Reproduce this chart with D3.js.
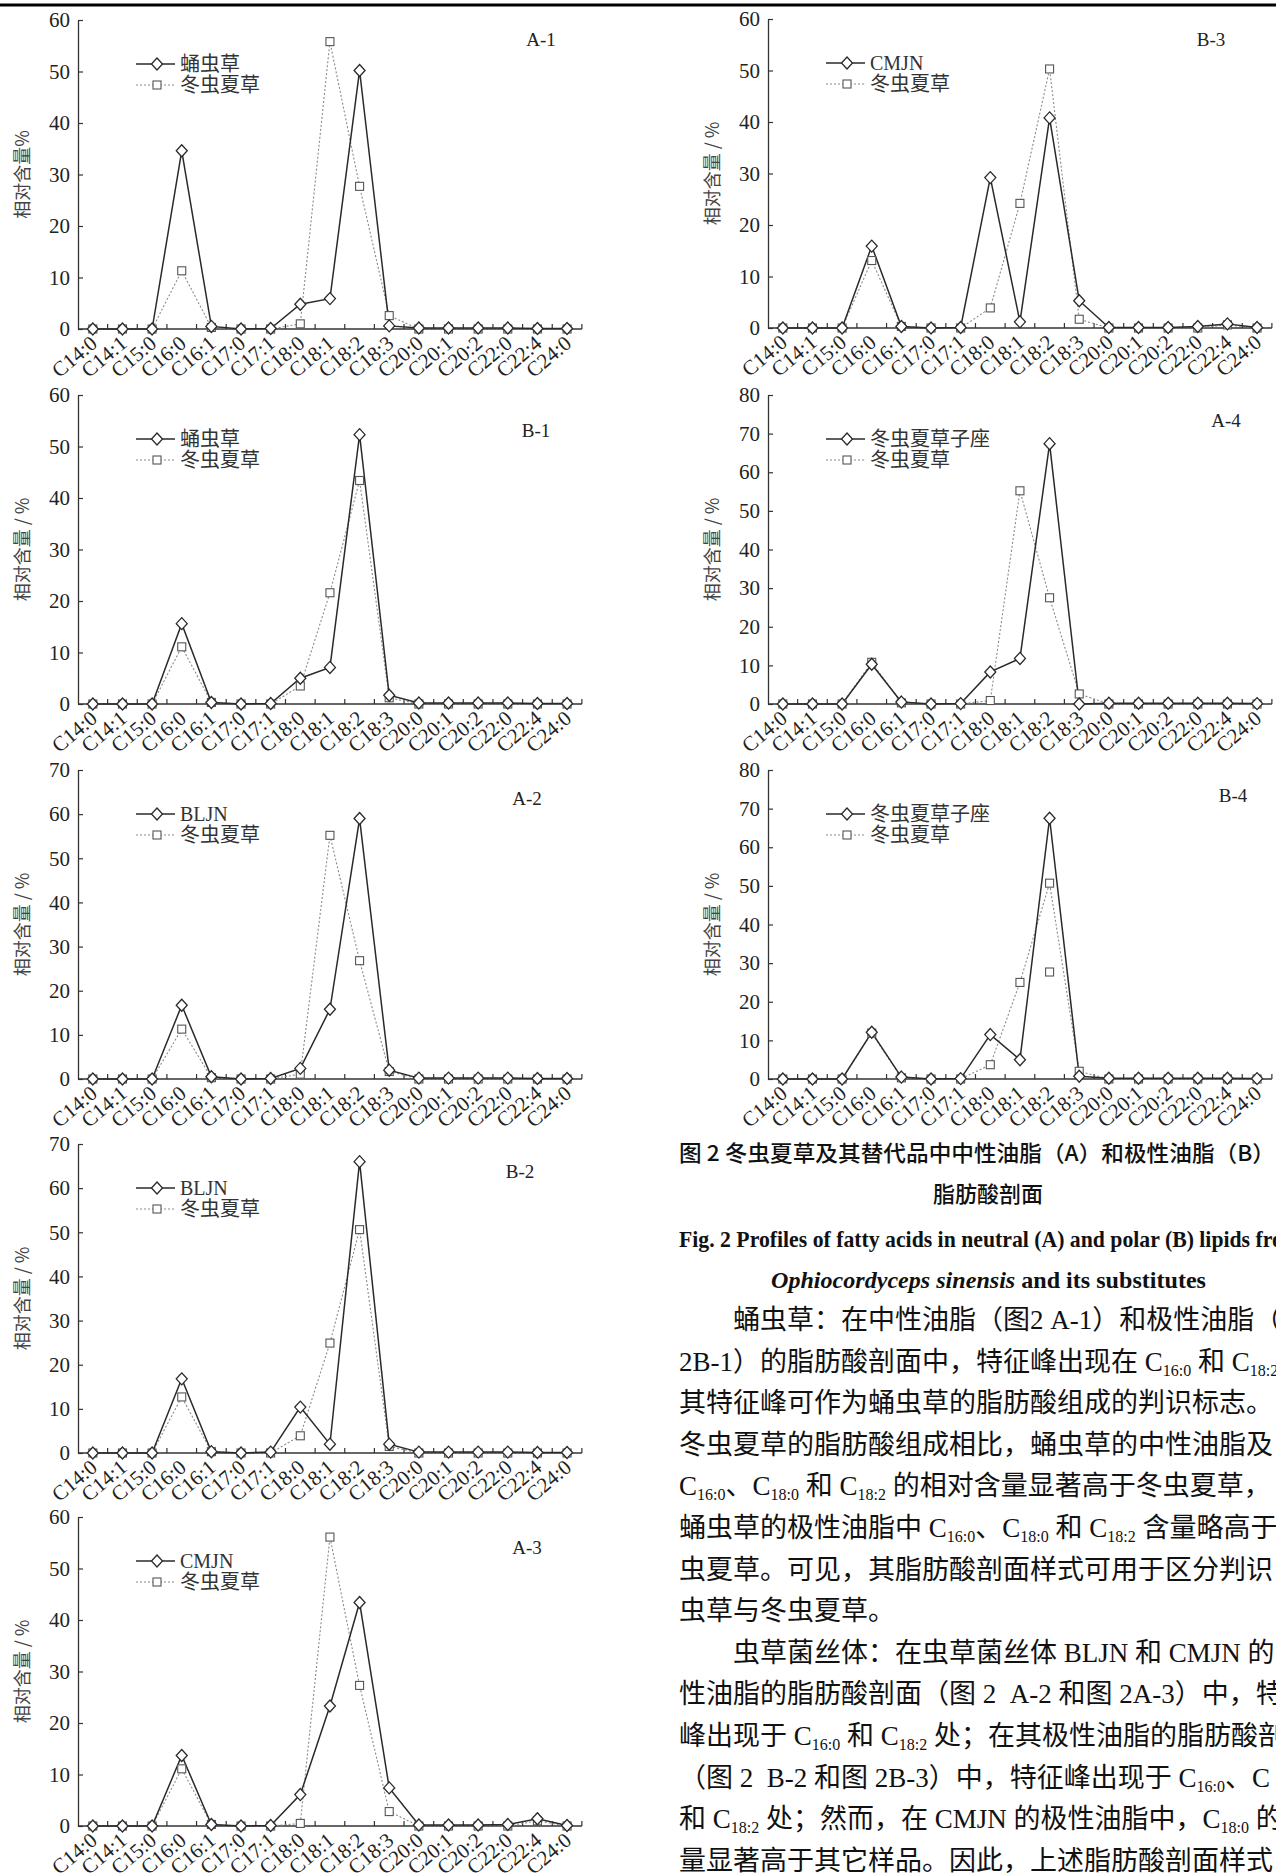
<!DOCTYPE html>
<html>
<head>
<meta charset="utf-8">
<script src="https://cdn.jsdelivr.net/npm/d3@7"></script>
<style>
  body { margin: 0; background: #fff; }
</style>
</head>
<body>
<script>
// fatty acids on the x axis
const categories = ["C14:0", "C14:1", "C15:0", "C16:0", "C16:1", "C17:0", "C17:1", "C18:0", "C18:1",
  "C18:2", "C18:3", "C20:0", "C20:1", "C20:2", "C22:0", "C22:4", "C24:0"];

// A = neutral lipids, B = polar lipids (relative content, %)
const a1Pupa = [0, 0, 0, 34.6, 0.5, 0, 0.1, 4.8, 5.9, 50.2, 0.6, 0.2, 0.2, 0.2, 0.2, 0.1, 0.1];
const a1Os   = [0, 0, 0, 11.3, 0.3, 0, 0, 1.0, 55.8, 27.7, 2.6, 0, 0, 0, 0, 0, 0];
const b1Pupa = [0, 0, 0, 15.6, 0.3, 0, 0.1, 5.0, 7.1, 52.3, 1.7, 0.2, 0.2, 0.2, 0.2, 0.1, 0.1];
const b1Os   = [0, 0, 0, 11.1, 0.3, 0, 0, 3.5, 21.6, 43.4, 1.2, 0, 0, 0, 0, 0, 0];
const a2Bljn = [0, 0, 0, 16.7, 0.5, 0, 0.1, 2.4, 15.8, 59.0, 2.0, 0.2, 0.2, 0.2, 0.2, 0.1, 0.1];
const a2Os   = [0, 0, 0, 11.3, 0.3, 0, 0, 1.1, 55.2, 26.8, 1.7, 0, 0, 0, 0, 0, 0];
const b2Bljn = [0, 0, 0, 16.8, 0.3, 0, 0.2, 10.4, 2.0, 66.0, 2.0, 0.2, 0.2, 0.2, 0.2, 0.1, 0.1];
const b2Os   = [0, 0, 0, 12.7, 0.3, 0, 0, 3.9, 24.9, 50.6, 1.5, 0, 0, 0, 0, 0, 0];
const a3Cmjn = [0, 0, 0, 13.7, 0.3, 0, 0.1, 6.1, 23.3, 43.4, 7.4, 0.2, 0.2, 0.2, 0.3, 1.4, 0.1];
const a3Os   = [0, 0, 0, 11.1, 0.3, 0, 0, 0.5, 56.1, 27.3, 2.8, 0, 0, 0, 0, 1.0, 0];
const b3Cmjn = [0, 0, 0, 15.9, 0.3, 0, 0.1, 29.2, 1.2, 40.8, 5.3, 0.1, 0.1, 0.1, 0.3, 0.8, 0.1];
const b3Os   = [0, 0, 0, 13.1, 0.3, 0, 0, 3.9, 24.2, 50.3, 1.7, 0, 0, 0, 0, 0.6, 0];
const a4Stroma = [0, 0, 0, 10.3, 0.5, 0, 0.1, 8.3, 11.8, 67.4, 0, 0.2, 0.2, 0.2, 0.2, 0.2, 0.1];
const a4Os     = [0, 0, 0, 10.8, 0.3, 0, 0, 0.9, 55.2, 27.5, 2.6, 0, 0, 0, 0, 0, 0];
const b4Stroma = [0, 0, 0, 12.1, 0.5, 0, 0.1, 11.5, 5.0, 67.5, 0.7, 0.2, 0.2, 0.2, 0.2, 0.2, 0.1];
const b4Os     = [0, 0, 0, 11.9, 0.3, 0, 0, 3.7, 25.0, 50.7, 2.0, 0, 0, 0, 0, 0, 0];
// lone square left in B-4 at C18:2
const b4Extra = [{ cat: "C18:2", value: 27.7 }];

const serif = '"Liberation Serif","Times New Roman",serif';
const cjk = '"Noto Sans CJK SC",sans-serif';
const mixed = '"Liberation Serif","Noto Sans CJK SC",serif';

const svg = d3.select("body").append("svg")
  .attr("width", 1276)
  .attr("height", 1874)
  .style("background", "#fff");

// rule at the very top of the page
svg.append("line")
  .attr("x1", 0).attr("x2", 1276)
  .attr("y1", 5).attr("y2", 5)
  .attr("stroke", "#000").attr("stroke-width", 3);

const colX = [78, 768];
const plotH = 309;
const bandW = 29.64;

const panels = [
  { label: "A-1", col: 0, top: 20, ymax: 60, names: ["蛹虫草", "冬虫夏草"], solid: a1Pupa, dotted: a1Os, yTitle: "相对含量%", tag: [463, 19] },
  { label: "B-1", col: 0, top: 395, ymax: 60, names: ["蛹虫草", "冬虫夏草"], solid: b1Pupa, dotted: b1Os, tag: [458, 35] },
  { label: "A-2", col: 0, top: 770, ymax: 70, names: ["BLJN", "冬虫夏草"], solid: a2Bljn, dotted: a2Os, tag: [449, 28] },
  { label: "B-2", col: 0, top: 1144, ymax: 70, names: ["BLJN", "冬虫夏草"], solid: b2Bljn, dotted: b2Os, tag: [442, 27] },
  { label: "A-3", col: 0, top: 1517, ymax: 60, names: ["CMJN", "冬虫夏草"], solid: a3Cmjn, dotted: a3Os, tag: [449, 30] },
  { label: "B-3", col: 1, top: 19, ymax: 60, names: ["CMJN", "冬虫夏草"], solid: b3Cmjn, dotted: b3Os, tag: [443, 20] },
  { label: "A-4", col: 1, top: 395, ymax: 80, names: ["冬虫夏草子座", "冬虫夏草"], solid: a4Stroma, dotted: a4Os, tag: [458, 25] },
  { label: "B-4", col: 1, top: 770, ymax: 80, names: ["冬虫夏草子座", "冬虫夏草"], solid: b4Stroma, dotted: b4Os, extra: b4Extra, tag: [465, 25] }
];

const diamond = "M0,-6L5.5,0L0,6L-5.5,0Z";

panels.forEach(p => {
  const x0 = colX[p.col];
  const x = d3.scaleBand().domain(categories).range([x0, x0 + bandW * categories.length]);
  const y = d3.scaleLinear().domain([0, p.ymax]).range([p.top + plotH, p.top]);
  const cx = c => x(c) + x.bandwidth() / 2;
  const g = svg.append("g");

  // y axis, ticks pointing inward
  const ya = g.append("g")
    .attr("transform", `translate(${x0},0)`)
    .call(d3.axisLeft(y).tickValues(d3.range(0, p.ymax + 1, 10)).tickSizeInner(-5).tickSizeOuter(0).tickPadding(8));
  ya.select(".domain").attr("stroke", "#333").attr("stroke-width", 1.3);
  ya.selectAll(".tick line").attr("stroke", "#333").attr("stroke-width", 1.2);
  ya.selectAll(".tick text").attr("font-family", serif).attr("font-size", 21).attr("fill", "#222");

  // x axis with small upward ticks on the band edges
  const y0 = y(0);
  const xr = x.range();
  g.append("line")
    .attr("x1", xr[0]).attr("x2", xr[1])
    .attr("y1", y0).attr("y2", y0)
    .attr("stroke", "#333").attr("stroke-width", 1.3);
  const edges = categories.map(c => x(c)).concat([xr[1]]);
  g.selectAll(".xtick").data(edges.slice(1)).join("line")
    .attr("x1", d => d).attr("x2", d => d)
    .attr("y1", y0).attr("y2", y0 - 5)
    .attr("stroke", "#333").attr("stroke-width", 1.2);
  g.selectAll(".xlab").data(categories).join("text")
    .attr("transform", d => `translate(${cx(d) - 4},${y0 + 5}) rotate(-40)`)
    .attr("dy", "0.72em")
    .attr("text-anchor", "end")
    .attr("font-family", serif)
    .attr("font-size", 21)
    .attr("fill", "#222")
    .text(d => d);

  // y title
  g.append("text")
    .attr("transform", `translate(${x0 - 55},${p.top + plotH / 2}) rotate(-90)`)
    .attr("text-anchor", "middle")
    .attr("dy", "0.35em")
    .attr("font-family", cjk)
    .attr("font-size", 18)
    .attr("fill", "#444")
    .text(p.yTitle || "相对含量 / %");

  // panel tag
  g.append("text")
    .attr("x", x0 + p.tag[0]).attr("y", p.top + p.tag[1])
    .attr("dy", "0.35em")
    .attr("text-anchor", "middle")
    .attr("font-family", serif)
    .attr("font-size", 19)
    .attr("fill", "#222")
    .text(p.label);

  const line = d3.line().x((d, i) => cx(categories[i])).y(d => y(d));

  g.append("path").datum(p.dotted)
    .attr("d", line)
    .attr("fill", "none")
    .attr("stroke", "#8a8a8a")
    .attr("stroke-width", 1.1)
    .attr("stroke-dasharray", "2,2");
  g.append("path").datum(p.solid)
    .attr("d", line)
    .attr("fill", "none")
    .attr("stroke", "#2a2a2a")
    .attr("stroke-width", 1.5);

  const sq = p.dotted.map((v, i) => ({ cat: categories[i], value: v })).concat(p.extra || []);
  g.selectAll(".sq").data(sq).join("rect")
    .attr("x", d => cx(d.cat) - 4)
    .attr("y", d => y(d.value) - 4)
    .attr("width", 8).attr("height", 8)
    .attr("fill", "#fff")
    .attr("stroke", "#555")
    .attr("stroke-width", 1.1);
  g.selectAll(".dm").data(p.solid).join("path")
    .attr("d", diamond)
    .attr("transform", (d, i) => `translate(${cx(categories[i])},${y(d)})`)
    .attr("fill", "#fff")
    .attr("stroke", "#2a2a2a")
    .attr("stroke-width", 1.3);

  // legend
  const rows = [p.top + 44, p.top + 65];
  const lg = g.append("g");
  lg.append("line")
    .attr("x1", x0 + 58).attr("x2", x0 + 97)
    .attr("y1", rows[0]).attr("y2", rows[0])
    .attr("stroke", "#2a2a2a").attr("stroke-width", 1.5);
  lg.append("path").attr("d", diamond)
    .attr("transform", `translate(${x0 + 79},${rows[0]})`)
    .attr("fill", "#fff").attr("stroke", "#2a2a2a").attr("stroke-width", 1.3);
  lg.append("line")
    .attr("x1", x0 + 58).attr("x2", x0 + 97)
    .attr("y1", rows[1]).attr("y2", rows[1])
    .attr("stroke", "#8a8a8a").attr("stroke-width", 1.1).attr("stroke-dasharray", "2,2");
  lg.append("rect")
    .attr("x", x0 + 75).attr("y", rows[1] - 4)
    .attr("width", 8).attr("height", 8)
    .attr("fill", "#fff").attr("stroke", "#555").attr("stroke-width", 1.1);
  p.names.forEach((n, i) => {
    lg.append("text")
      .attr("x", x0 + 102).attr("y", rows[i])
      .attr("dy", "0.35em")
      .attr("font-family", mixed)
      .attr("font-size", 20)
      .attr("fill", "#333")
      .text(n);
  });
});

// caption
const cap = svg.append("g");
cap.append("text")
  .attr("x", 679).attr("y", 1161)
  .attr("font-family", cjk).attr("font-size", 22).attr("font-weight", 500).attr("fill", "#111")
  .attr("textLength", 596).attr("lengthAdjust", "spacingAndGlyphs")
  .text("图 2 冬虫夏草及其替代品中中性油脂（A）和极性油脂（B）");
cap.append("text")
  .attr("x", 988).attr("y", 1202)
  .attr("text-anchor", "middle")
  .attr("font-family", cjk).attr("font-size", 22).attr("font-weight", 500).attr("fill", "#111")
  .text("脂肪酸剖面");
cap.append("text")
  .attr("x", 679).attr("y", 1247)
  .attr("font-family", serif).attr("font-size", 23).attr("font-weight", "bold").attr("fill", "#111")
  .attr("textLength", 622).attr("lengthAdjust", "spacingAndGlyphs")
  .text("Fig. 2 Profiles of fatty acids in neutral (A) and polar (B) lipids from");
const cap2 = cap.append("text")
  .attr("x", 771).attr("y", 1288)
  .attr("font-family", serif).attr("font-size", 23).attr("fill", "#111")
  .attr("textLength", 435).attr("lengthAdjust", "spacingAndGlyphs");
cap2.append("tspan").attr("font-style", "italic").attr("font-weight", "bold").text("Ophiocordyceps sinensis ");
cap2.append("tspan").attr("font-weight", "bold").text("and its substitutes");

// body text, C16:0 etc. get subscripts
const bodyLines = [
  { t: "蛹虫草：在中性油脂（图2 A-1）和极性油脂（", indent: true },
  { t: "2B-1）的脂肪酸剖面中，特征峰出现在 C16:0 和 C18:2 处" },
  { t: "其特征峰可作为蛹虫草的脂肪酸组成的判识标志。" },
  { t: "冬虫夏草的脂肪酸组成相比，蛹虫草的中性油脂及" },
  { t: "C16:0、C18:0 和 C18:2 的相对含量显著高于冬虫夏草，" },
  { t: "蛹虫草的极性油脂中 C16:0、C18:0 和 C18:2 含量略高于" },
  { t: "虫夏草。可见，其脂肪酸剖面样式可用于区分判识" },
  { t: "虫草与冬虫夏草。" },
  { t: "虫草菌丝体：在虫草菌丝体 BLJN 和 CMJN 的", indent: true },
  { t: "性油脂的脂肪酸剖面（图 2  A-2 和图 2A-3）中，特" },
  { t: "峰出现于 C16:0 和 C18:2 处；在其极性油脂的脂肪酸剖" },
  { t: "（图 2  B-2 和图 2B-3）中，特征峰出现于 C16:0、C" },
  { t: "和 C18:2 处；然而，在 CMJN 的极性油脂中，C18:0 的" },
  { t: "量显著高于其它样品。因此，上述脂肪酸剖面样式" }
];

const bodySize = 27;
bodyLines.forEach((ln, i) => {
  const t = svg.append("text")
    .attr("x", ln.indent ? 733 : 679)
    .attr("y", 1329 + i * 41.6)
    .attr("font-family", mixed)
    .attr("font-size", bodySize)
    .attr("fill", "#111")
    .style("white-space", "pre");
  let shift = 0;
  ln.t.split(/(C\d+:\d)/).filter(s => s.length).forEach(part => {
    const m = part.match(/^C(\d+:\d)$/);
    if (m) {
      t.append("tspan").attr("dy", -shift).text("C");
      t.append("tspan").attr("font-size", 16).attr("dy", 5).text(m[1]);
      shift = 5;
    } else {
      t.append("tspan").attr("dy", -shift).text(part);
      shift = 0;
    }
  });
});
</script>
</body>
</html>
